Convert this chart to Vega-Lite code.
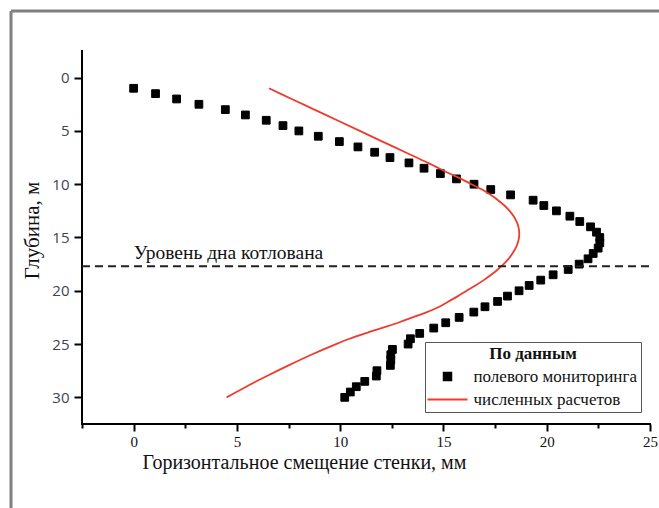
{
  "$schema": "https://vega.github.io/schema/vega-lite/v6.json",
  "width": 648,
  "height": 497,
  "autosize": "none",
  "padding": {"left": 11, "top": 11, "right": 0, "bottom": 0},
  "background": "white",
  "config": {
    "font": "Liberation Serif",
    "view": {"stroke": "#808080", "strokeWidth": 3, "strokeDash": [648, 1145, 497, 0]}
  },
  "datasets": {
    "monitoring": [
      {"x": 0, "depth": 1, "series": "полевого мониторинга"},
      {"x": 1.06, "depth": 1.5, "series": "полевого мониторинга"},
      {"x": 2.08, "depth": 2, "series": "полевого мониторинга"},
      {"x": 3.16, "depth": 2.5, "series": "полевого мониторинга"},
      {"x": 4.44, "depth": 3, "series": "полевого мониторинга"},
      {"x": 5.41, "depth": 3.5, "series": "полевого мониторинга"},
      {"x": 6.42, "depth": 4, "series": "полевого мониторинга"},
      {"x": 7.23, "depth": 4.5, "series": "полевого мониторинга"},
      {"x": 8.0, "depth": 5, "series": "полевого мониторинга"},
      {"x": 8.94, "depth": 5.5, "series": "полевого мониторинга"},
      {"x": 9.96, "depth": 6, "series": "полевого мониторинга"},
      {"x": 10.86, "depth": 6.5, "series": "полевого мониторинга"},
      {"x": 11.67, "depth": 7, "series": "полевого мониторинга"},
      {"x": 12.41, "depth": 7.5, "series": "полевого мониторинга"},
      {"x": 13.33, "depth": 8, "series": "полевого мониторинга"},
      {"x": 14.06, "depth": 8.5, "series": "полевого мониторинга"},
      {"x": 14.85, "depth": 9, "series": "полевого мониторинга"},
      {"x": 15.63, "depth": 9.5, "series": "полевого мониторинга"},
      {"x": 16.48, "depth": 10, "series": "полевого мониторинга"},
      {"x": 17.29, "depth": 10.5, "series": "полевого мониторинга"},
      {"x": 18.25, "depth": 11, "series": "полевого мониторинга"},
      {"x": 19.34, "depth": 11.5, "series": "полевого мониторинга"},
      {"x": 19.86, "depth": 12, "series": "полевого мониторинга"},
      {"x": 20.47, "depth": 12.5, "series": "полевого мониторинга"},
      {"x": 21.12, "depth": 13, "series": "полевого мониторинга"},
      {"x": 21.6, "depth": 13.5, "series": "полевого мониторинга"},
      {"x": 22.12, "depth": 14, "series": "полевого мониторинга"},
      {"x": 22.41, "depth": 14.5, "series": "полевого мониторинга"},
      {"x": 22.57, "depth": 15, "series": "полевого мониторинга"},
      {"x": 22.57, "depth": 15.5, "series": "полевого мониторинга"},
      {"x": 22.49, "depth": 16, "series": "полевого мониторинга"},
      {"x": 22.25, "depth": 16.5, "series": "полевого мониторинга"},
      {"x": 22.0, "depth": 17, "series": "полевого мониторинга"},
      {"x": 21.57, "depth": 17.5, "series": "полевого мониторинга"},
      {"x": 21.04, "depth": 18, "series": "полевого мониторинга"},
      {"x": 20.31, "depth": 18.5, "series": "полевого мониторинга"},
      {"x": 19.71, "depth": 19, "series": "полевого мониторинга"},
      {"x": 19.15, "depth": 19.5, "series": "полевого мониторинга"},
      {"x": 18.66, "depth": 20, "series": "полевого мониторинга"},
      {"x": 18.1, "depth": 20.5, "series": "полевого мониторинга"},
      {"x": 17.62, "depth": 21, "series": "полевого мониторинга"},
      {"x": 17.01, "depth": 21.5, "series": "полевого мониторинга"},
      {"x": 16.47, "depth": 22, "series": "полевого мониторинга"},
      {"x": 15.76, "depth": 22.5, "series": "полевого мониторинга"},
      {"x": 15.11, "depth": 23, "series": "полевого мониторинга"},
      {"x": 14.53, "depth": 23.5, "series": "полевого мониторинга"},
      {"x": 13.85, "depth": 24, "series": "полевого мониторинга"},
      {"x": 13.4, "depth": 24.5, "series": "полевого мониторинга"},
      {"x": 13.29, "depth": 25, "series": "полевого мониторинга"},
      {"x": 12.53, "depth": 25.5, "series": "полевого мониторинга"},
      {"x": 12.45, "depth": 26, "series": "полевого мониторинга"},
      {"x": 12.45, "depth": 26.5, "series": "полевого мониторинга"},
      {"x": 12.43, "depth": 27, "series": "полевого мониторинга"},
      {"x": 11.78, "depth": 27.5, "series": "полевого мониторинга"},
      {"x": 11.75, "depth": 28, "series": "полевого мониторинга"},
      {"x": 11.19, "depth": 28.5, "series": "полевого мониторинга"},
      {"x": 10.78, "depth": 29, "series": "полевого мониторинга"},
      {"x": 10.49, "depth": 29.5, "series": "полевого мониторинга"},
      {"x": 10.22, "depth": 30, "series": "полевого мониторинга"}
    ],
    "calc": [
      {"x": 6.55, "depth": 1.0, "series": "численных расчетов"},
      {"x": 7.65, "depth": 2.0, "series": "численных расчетов"},
      {"x": 8.75, "depth": 3.0, "series": "численных расчетов"},
      {"x": 9.85, "depth": 4.0, "series": "численных расчетов"},
      {"x": 10.95, "depth": 5.0, "series": "численных расчетов"},
      {"x": 12.05, "depth": 6.0, "series": "численных расчетов"},
      {"x": 13.15, "depth": 7.0, "series": "численных расчетов"},
      {"x": 14.25, "depth": 8.0, "series": "численных расчетов"},
      {"x": 15.3, "depth": 9.0, "series": "численных расчетов"},
      {"x": 15.85, "depth": 9.5, "series": "численных расчетов"},
      {"x": 16.35, "depth": 10.0, "series": "численных расчетов"},
      {"x": 16.87, "depth": 10.5, "series": "численных расчетов"},
      {"x": 17.28, "depth": 11.0, "series": "численных расчетов"},
      {"x": 17.64, "depth": 11.5, "series": "численных расчетов"},
      {"x": 17.95, "depth": 12.0, "series": "численных расчетов"},
      {"x": 18.2, "depth": 12.5, "series": "численных расчетов"},
      {"x": 18.4, "depth": 13.0, "series": "численных расчетов"},
      {"x": 18.54, "depth": 13.5, "series": "численных расчетов"},
      {"x": 18.63, "depth": 14.0, "series": "численных расчетов"},
      {"x": 18.67, "depth": 14.6, "series": "численных расчетов"},
      {"x": 18.64, "depth": 15.2, "series": "численных расчетов"},
      {"x": 18.54, "depth": 15.8, "series": "численных расчетов"},
      {"x": 18.34, "depth": 16.5, "series": "численных расчетов"},
      {"x": 18.15, "depth": 17.0, "series": "численных расчетов"},
      {"x": 17.91, "depth": 17.5, "series": "численных расчетов"},
      {"x": 17.63, "depth": 18.0, "series": "численных расчетов"},
      {"x": 17.31, "depth": 18.5, "series": "численных расчетов"},
      {"x": 16.95, "depth": 19.0, "series": "численных расчетов"},
      {"x": 16.55, "depth": 19.5, "series": "численных расчетов"},
      {"x": 16.12, "depth": 20.0, "series": "численных расчетов"},
      {"x": 15.7, "depth": 20.5, "series": "численных расчетов"},
      {"x": 15.25, "depth": 21.0, "series": "численных расчетов"},
      {"x": 14.8, "depth": 21.5, "series": "численных расчетов"},
      {"x": 14.2, "depth": 22.0, "series": "численных расчетов"},
      {"x": 13.5, "depth": 22.5, "series": "численных расчетов"},
      {"x": 12.8, "depth": 23.0, "series": "численных расчетов"},
      {"x": 12.0, "depth": 23.5, "series": "численных расчетов"},
      {"x": 11.2, "depth": 24.0, "series": "численных расчетов"},
      {"x": 10.45, "depth": 24.5, "series": "численных расчетов"},
      {"x": 9.8, "depth": 25.0, "series": "численных расчетов"},
      {"x": 8.6, "depth": 26.0, "series": "численных расчетов"},
      {"x": 7.5, "depth": 27.0, "series": "численных расчетов"},
      {"x": 6.45, "depth": 28.0, "series": "численных расчетов"},
      {"x": 5.45, "depth": 29.0, "series": "численных расчетов"},
      {"x": 4.5, "depth": 30.0, "series": "численных расчетов"}
    ],
    "level": [
      {"depth": 17.7, "label": "Уровень дна котлована"}
    ]
  },
  "layer": [
    {
      "data": {"name": "monitoring"},
      "mark": {"type": "point", "filled": true, "size": 60, "strokeWidth": 1, "opacity": 1},
      "encoding": {
        "x": {
          "field": "x",
          "type": "quantitative",
          "scale": {"domain": [-5.9375, 25.4355], "nice": false, "zero": false},
          "axis": {
            "title": "Горизонтальное смещение стенки, мм",
            "orient": "bottom",
            "offset": -84,
            "values": [-2.5, 0, 2.5, 5, 7.5, 10, 12.5, 15, 17.5, 20, 22.5, 25],
            "domain": false,
            "grid": false,
            "labelOverlap": false,
            "labelBound": false,
            "labelFlush": false,
            "tickColor": "black",
            "tickWidth": 2,
            "tickSize": {"condition": {"test": "datum.value % 5 === 0", "value": 7}, "value": 4},
            "labelExpr": "datum.value % 5 === 0 ? format(datum.value, 'd') : ''",
            "labelFont": "Liberation Serif",
            "labelFontSize": 15,
            "labelColor": "#111",
            "labelPadding": 3,
            "titleFont": "Liberation Serif",
            "titleFontSize": 20,
            "titleFontWeight": "normal",
            "titleColor": "#111",
            "titleX": 293,
            "titleY": 38,
            "titleBaseline": "middle"
          }
        },
        "y": {
          "field": "depth",
          "type": "quantitative",
          "scale": {"domain": [40.383, -6.2535], "nice": false, "zero": false},
          "axis": {
            "title": "Глубина, м",
            "orient": "left",
            "offset": -71,
            "values": [0, 5, 10, 15, 20, 25, 30],
            "format": "d",
            "domain": false,
            "grid": false,
            "labelOverlap": false,
            "labelBound": false,
            "labelFlush": false,
            "tickColor": "black",
            "tickWidth": 2,
            "tickSize": 8,
            "labelFont": "Open Sans",
            "labelFontSize": 15,
            "labelColor": "#3a4450",
            "labelPadding": 5,
            "titleFont": "Liberation Serif",
            "titleFontSize": 21,
            "titleFontWeight": "normal",
            "titleColor": "#111",
            "titleX": -50,
            "titleY": 219,
            "titleBaseline": "middle"
          }
        },
        "fill": {
          "field": "series",
          "type": "nominal",
          "scale": {"domain": ["полевого мониторинга", "численных расчетов"], "range": ["black", "#ef3b2c"]},
          "legend": {
            "orient": "none",
            "legendX": 414,
            "legendY": 331,
            "title": "По данным",
            "titleAnchor": "middle",
            "titleFont": "Liberation Serif",
            "titleFontSize": 17,
            "titleFontWeight": "bold",
            "titleColor": "#111",
            "titlePadding": 5,
            "labelFont": "Liberation Serif",
            "labelFontSize": 17,
            "labelColor": "#111",
            "labelOffset": 17.5,
            "labelLimit": 0,
            "symbolSize": 56,
            "symbolOffset": 10,
            "symbolStrokeWidth": 2,
            "rowPadding": 5,
            "padding": 4,
            "strokeColor": "#555",
            "fillColor": "white"
          }
        },
        "stroke": {
          "field": "series",
          "type": "nominal",
          "scale": {"domain": ["полевого мониторинга", "численных расчетов"], "range": ["black", "#ef3b2c"]}
        },
        "shape": {
          "field": "series",
          "type": "nominal",
          "scale": {"domain": ["полевого мониторинга", "численных расчетов"], "range": ["square", "M-5.35,0L5.35,0"]}
        }
      }
    },
    {
      "data": {"name": "calc"},
      "mark": {"type": "line", "strokeWidth": 1.8, "interpolate": "catmull-rom"},
      "encoding": {
        "x": {"field": "x", "type": "quantitative", "title": "Горизонтальное смещение стенки, мм"},
        "y": {"field": "depth", "type": "quantitative", "title": "Глубина, м"},
        "order": {"field": "depth", "type": "quantitative"},
        "stroke": {"field": "series", "type": "nominal", "legend": null}
      }
    },
    {
      "data": {"values": [{}]},
      "mark": {"type": "rule", "color": "black", "strokeWidth": 2, "strokeCap": "square"},
      "encoding": {
        "x": {"datum": -2.5, "type": "quantitative"},
        "y": {"datum": -2.5, "type": "quantitative"},
        "y2": {"datum": 32.5}
      }
    },
    {
      "data": {"values": [{}]},
      "mark": {"type": "rule", "color": "black", "strokeWidth": 2, "strokeCap": "square"},
      "encoding": {
        "x": {"datum": -2.5, "type": "quantitative"},
        "x2": {"datum": 25},
        "y": {"datum": 32.5, "type": "quantitative"}
      }
    },
    {
      "data": {"name": "level"},
      "mark": {"type": "rule", "color": "#222", "strokeWidth": 2, "strokeDash": [8, 5]},
      "encoding": {
        "x": {"datum": -2.5, "type": "quantitative"},
        "x2": {"datum": 25},
        "y": {"field": "depth", "type": "quantitative", "title": "Глубина, м"}
      }
    },
    {
      "data": {"name": "level"},
      "mark": {"type": "text", "align": "left", "baseline": "alphabetic", "dy": -7, "fontSize": 19.5, "font": "Liberation Serif", "color": "#111"},
      "encoding": {
        "x": {"datum": 0, "type": "quantitative"},
        "y": {"field": "depth", "type": "quantitative", "title": "Глубина, м"},
        "text": {"field": "label"}
      }
    }
  ]
}
